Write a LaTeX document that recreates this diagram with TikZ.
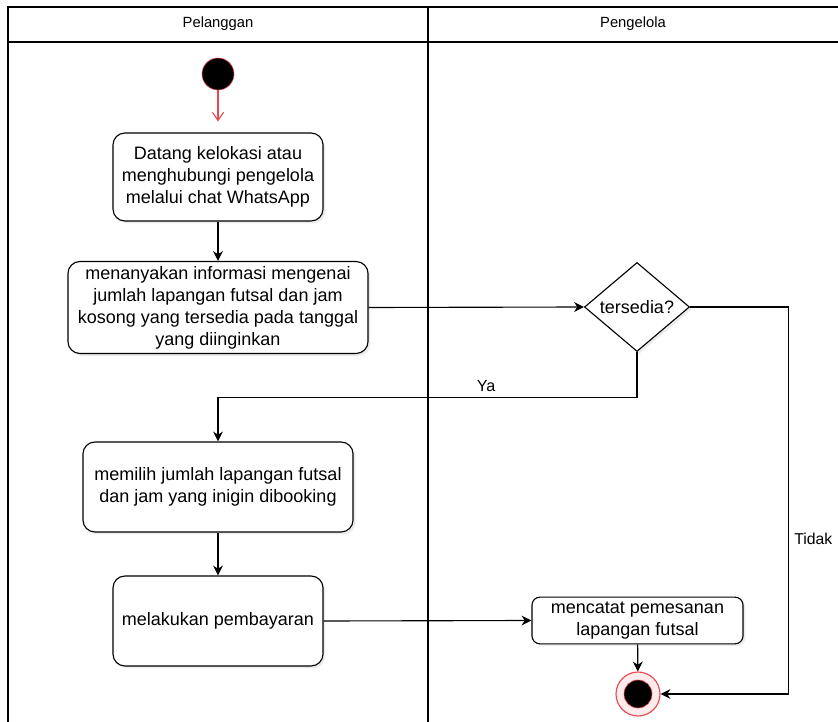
\documentclass[tikz,border=0pt]{standalone}
\usepackage{fontspec}
\setmainfont{Liberation Sans}
\usetikzlibrary{positioning, calc, arrows.meta, shapes, shadows}
\tikzset{act/.style={draw, thick, rounded corners=0.3cm, align=center, fill=white,
    font=\fontsize{12.8}{15.6}\selectfont,
    drop shadow={shadow xshift=0.06cm, shadow yshift=-0.06cm, opacity=0.15}}}
\tikzset{cond/.style={draw, thick, diamond, aspect=1.18, inner sep=0pt, fill=white,
    minimum width=2.625cm, minimum height=2.225cm, font=\fontsize{12.8}{15.6}\selectfont,
    drop shadow={shadow xshift=0.06cm, shadow yshift=-0.06cm, opacity=0.15}}}
\tikzset{flow/.style={thick, -{Stealth[length=7pt, width=7pt]}}}
\tikzset{lane/.style={line width=1.3pt}}
\definecolor{startred}{HTML}{E8474F}

\begin{document}
\begin{tikzpicture}[x=0.025cm, y=-0.025cm]
      \useasboundingbox (0,0) rectangle (838,722);

      % swimlanes
      \draw[lane] (8,722) -- (8,7) -- (838,7);
      \draw[lane] (8,42) -- (838,42);
      \draw[lane] (428,7) -- (428,722);
      \node[font=\fontsize{10.5}{12}\selectfont] (h0) at (218,24) {Pelanggan};
      \node[font=\fontsize{10.5}{12}\selectfont] (h1) at (633,24) {Pengelola};

      \node[circle, draw=startred, fill=black, minimum size=0.8cm, inner sep=0pt] (s0) at (218,74) {};

      \node[act, minimum width=5.25cm, minimum height=2.2cm] (a1) at (218,177) {
        Datang kelokasi atau \\ menghubungi pengelola \\ melalui chat WhatsApp};
      \node[act, minimum width=7.5cm, minimum height=2.225cm] (a2) at (218,307.5) {
        menanyakan informasi mengenai \\ jumlah lapangan futsal dan jam \\
        kosong yang tersedia pada tanggal \\ yang diinginkan};
      \node[cond] (d0) at (637,307) {tersedia?};
      \node[act, minimum width=6.75cm, minimum height=2.25cm] (a3) at (218,487) {
        memilih jumlah lapangan futsal \\ dan jam yang inigin dibooking};
      \node[act, minimum width=5.25cm, minimum height=2.25cm] (a4) at (218,621) {
        melakukan pembayaran};
      \node[act, rounded corners=0.2cm, minimum width=5.275cm, minimum height=1.125cm] (a5) at (637.5,620.5) {
        mencatat pemesanan \\ lapangan futsal};

      \node[circle, draw=startred, thick, fill=red!8, minimum size=1.1cm, inner sep=0pt] (e0) at (638,694) {};
      \node[circle, draw=startred, fill=black, minimum size=0.7cm, inner sep=0pt] at (e0) {};

      \draw[startred, thick, -{Straight Barb[length=6pt, width=8pt]}, shorten >=0.27cm] (s0) -- (a1);
      \draw[flow] (a1) -- (a2);
      \draw[flow] (a2.east) -- (d0.west);
      \draw[flow] (d0.south) -- ++(0,45) -| (a3.north)
        node[pos=0.18, above, font=\fontsize{11.5}{13}\selectfont] {Ya};
      \draw[flow] (d0.east) -- ++(98,0) |- (e0.east)
        node[pos=0.3, anchor=west, xshift=3pt, fill=white, inner sep=1pt, font=\fontsize{11.2}{13}\selectfont] {Tidak};
      \draw[flow] (a3) -- (a4);
      \draw[flow] (a4.east) -- (a5.west);
      \draw[flow] (a5) -- (e0);

\end{tikzpicture}
\end{document}
